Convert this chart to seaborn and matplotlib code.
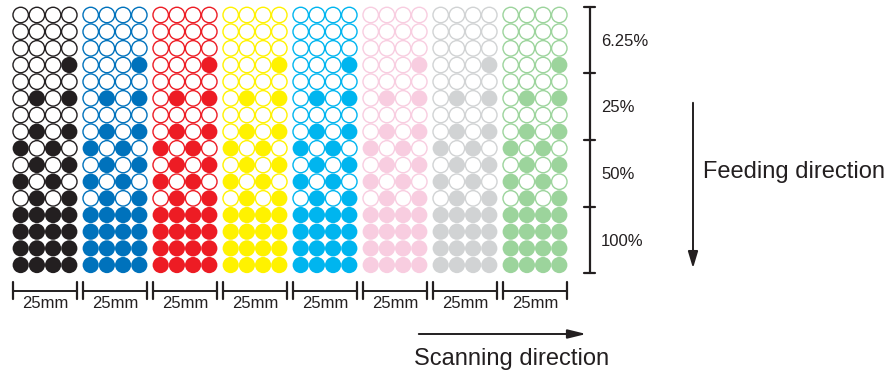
import pandas as pd
import matplotlib.pyplot as plt
import seaborn as sns

sns.set_style("white")
plt.rcParams['font.family'] = ['Liberation Sans', 'DejaVu Sans']

# ink blocks, left to right
inks = ["black", "blue", "red", "yellow", "cyan", "pink", "gray", "green"]
ink_colors = ["#231f20", "#0072bc", "#ed1c24", "#fff200", "#00b5ef", "#f8cde0", "#d1d3d4", "#9cd49c"]

# dot pattern of one block, top row first (1 = printed dot)
pattern = [
    "0000", "0000", "0000", "0001",
    "0000", "0101", "0000", "0101",
    "1010", "0101", "1010", "0101",
    "1111", "1111", "1111", "1111",
]
coverage = ["6.25%", "25%", "50%", "100%"]
width_labels = ["25mm"] * len(inks)

# layout in pixels (axes span the whole figure)
x0, y0 = 20.7, 15.0
col_pitch, row_pitch, block_pitch = 16.2, 16.67, 70.0
ring = "#231f20"

rows = []
for b, ink in enumerate(inks):
    for r, line in enumerate(pattern):
        for c, v in enumerate(line):
            rows.append({"x": x0 + b * block_pitch + c * col_pitch,
                         "y": y0 + r * row_pitch,
                         "ink": ink, "filled": v == "1"})
df = pd.DataFrame(rows)
pal = dict(zip(inks, ink_colors))

fig = plt.figure(figsize=(8.95, 3.76), dpi=100)
ax = fig.add_axes([0, 0, 1, 1])

sns.scatterplot(data=df[df.filled], x="x", y="y", hue="ink", palette=pal,
                s=136, linewidth=0, legend=False, ax=ax)
sns.scatterplot(data=df[~df.filled], x="x", y="y", hue="ink", palette=pal,
                s=124, linewidth=0, legend=False, ax=ax)
hollow = ax.collections[-1]
hollow.set_edgecolors(hollow.get_facecolors())
hollow.set_facecolor("white")
hollow.set_linewidth(1.0)

ax.set_xlim(0, 895)
ax.set_ylim(376, 0)
ax.axis("off")

# coverage scale on the right
sx = 590
top = y0 - row_pitch / 2
bounds = [top + i * 4 * row_pitch for i in range(len(coverage) + 1)]
ax.plot([sx, sx], [bounds[0], bounds[-1]], color=ring, lw=1.6)
for yb in bounds:
    ax.plot([sx - 5.5, sx + 5.5], [yb, yb], color=ring, lw=1.6)
for i, lab in enumerate(coverage):
    ax.text(601, (bounds[i] + bounds[i + 1]) / 2 + 1, lab, fontsize=12,
            ha="left", va="center", color=ring)

# 25mm scale under each block
for b, lab in enumerate(width_labels):
    xl = x0 - 8 + b * block_pitch
    xr = xl + 3 * col_pitch + 16
    ax.plot([xl, xr], [291, 291], color=ring, lw=1.4)
    for xx in (xl, xr):
        ax.plot([xx, xx], [282, 299], color=ring, lw=1.6)
    ax.text((xl + xr) / 2, 304, lab, fontsize=12, ha="center", va="center", color=ring)

# direction arrows
ax.annotate("", xy=(693, 271), xytext=(693, 100),
            arrowprops=dict(arrowstyle="-|>,head_length=1.0,head_width=0.3", color=ring, lw=1.4))
ax.text(703, 172, "Feeding direction", fontsize=17, ha="left", va="center", color=ring)
ax.annotate("", xy=(589, 334), xytext=(416, 334),
            arrowprops=dict(arrowstyle="-|>,head_length=1.1,head_width=0.27", color=ring, lw=1.4))
ax.text(512, 359, "Scanning direction", fontsize=17, ha="center", va="center", color=ring)

fig.savefig("out.png", dpi=100)
